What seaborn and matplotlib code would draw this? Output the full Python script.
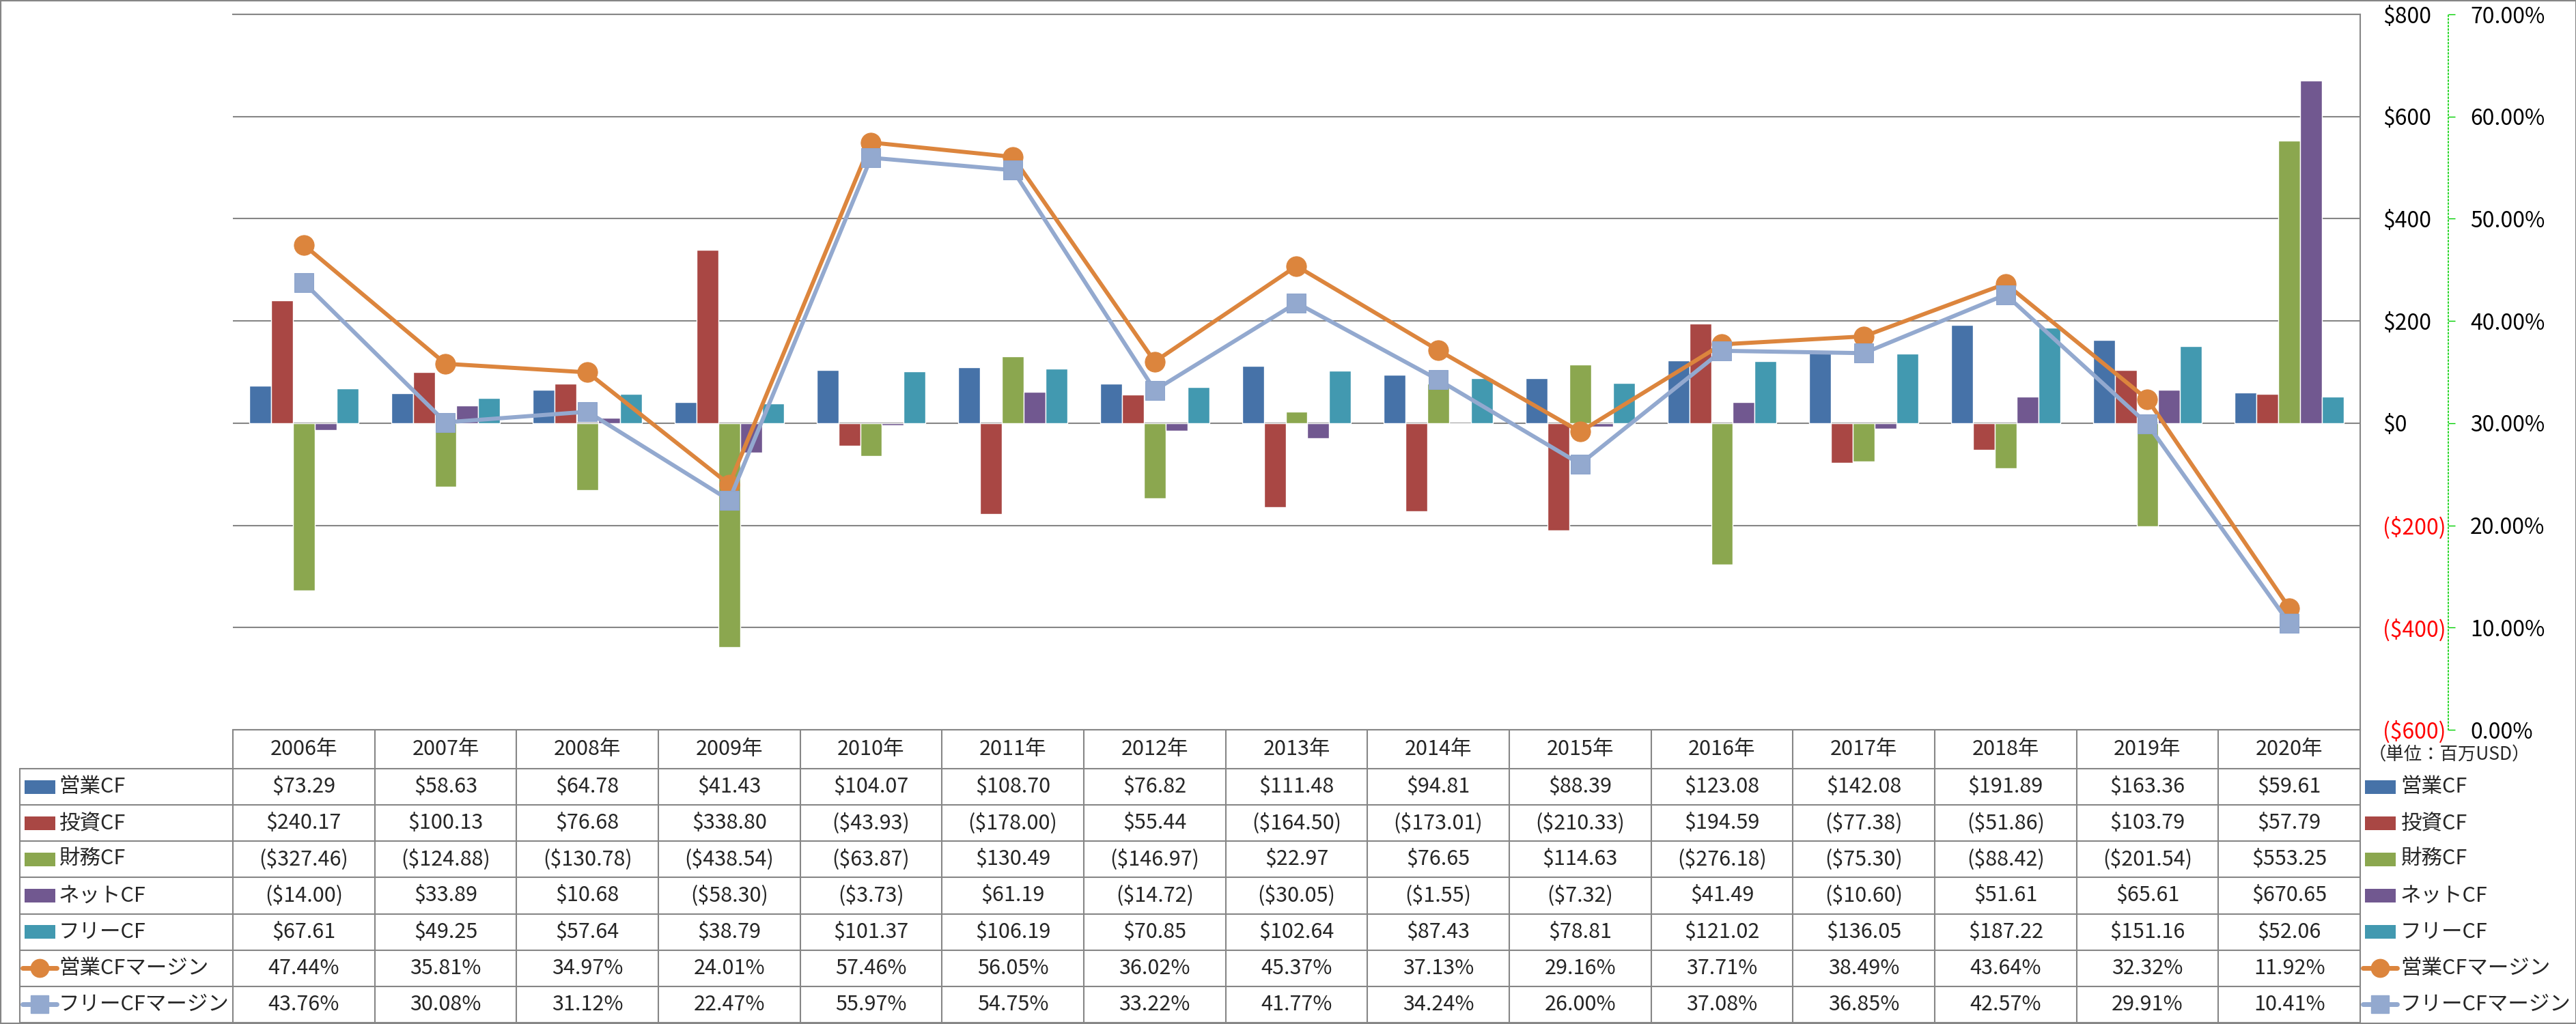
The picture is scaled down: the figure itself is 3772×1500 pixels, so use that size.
import numpy as np
import pandas as pd
import matplotlib
matplotlib.use('Agg')
import matplotlib.pyplot as plt
import matplotlib.transforms as mtransforms
from matplotlib.lines import Line2D
from matplotlib.patches import Rectangle
import seaborn as sns

# data (百万USD / %)
years = ['2006年', '2007年', '2008年', '2009年', '2010年', '2011年', '2012年', '2013年',
         '2014年', '2015年', '2016年', '2017年', '2018年', '2019年', '2020年']
op_cf = [73.29, 58.63, 64.78, 41.43, 104.07, 108.70, 76.82, 111.48,
         94.81, 88.39, 123.08, 142.08, 191.89, 163.36, 59.61]
inv_cf = [240.17, 100.13, 76.68, 338.80, -43.93, -178.00, 55.44, -164.50,
          -173.01, -210.33, 194.59, -77.38, -51.86, 103.79, 57.79]
fin_cf = [-327.46, -124.88, -130.78, -438.54, -63.87, 130.49, -146.97, 22.97,
          76.65, 114.63, -276.18, -75.30, -88.42, -201.54, 553.25]
net_cf = [-14.00, 33.89, 10.68, -58.30, -3.73, 61.19, -14.72, -30.05,
          -1.55, -7.32, 41.49, -10.60, 51.61, 65.61, 670.65]
free_cf = [67.61, 49.25, 57.64, 38.79, 101.37, 106.19, 70.85, 102.64,
           87.43, 78.81, 121.02, 136.05, 187.22, 151.16, 52.06]
op_margin = [47.44, 35.81, 34.97, 24.01, 57.46, 56.05, 36.02, 45.37,
             37.13, 29.16, 37.71, 38.49, 43.64, 32.32, 11.92]
free_margin = [43.76, 30.08, 31.12, 22.47, 55.97, 54.75, 33.22, 41.77,
               34.24, 26.00, 37.08, 36.85, 42.57, 29.91, 10.41]

bar_names = ['営業CF', '投資CF', '財務CF', 'ネットCF', 'フリーCF']
line_names = ['営業CFマージン', 'フリーCFマージン']
bar_colors = ['#4672A8', '#A94744', '#8BA74F', '#715890', '#4299B0']
line_colors = ['#DC853D', '#93A9CF']
money_ticks = [-600, -400, -200, 0, 200, 400, 600, 800]
pct_ticks = [0, 10, 20, 30, 40, 50, 60, 70]

GRAY = '#868686'
W, H, DPI = 3773, 1500, 100
TXT = 22


def money(v):
    return f'(${-v:,.2f})' if v < 0 else f'${v:,.2f}'


def money_tick(v):
    return f'(${-v:,.0f})' if v < 0 else f'${v:,.0f}'


def fy(px):
    return 1 - px / H


def fx(px):
    return px / W


sns.set_style('white')
plt.rcParams['font.family'] = ['Noto Sans CJK JP', 'DejaVu Sans']

fig = plt.figure(figsize=(W / DPI, H / DPI), dpi=DPI)
ax_l, ax_r, ax_t, ax_b = 341, 3456, 21, 1069
ax = fig.add_axes([fx(ax_l), fy(ax_b), fx(ax_r) - fx(ax_l), fy(ax_t) - fy(ax_b)])
ax2 = ax.twinx()

bars = pd.DataFrame({
    'year': years * len(bar_names),
    'series': np.repeat(bar_names, len(years)),
    'value': op_cf + inv_cf + fin_cf + net_cf + free_cf,
})
sns.barplot(data=bars, x='year', y='value', hue='series', hue_order=bar_names,
            palette=bar_colors, width=0.77, saturation=1, errorbar=None,
            legend=False, ax=ax)

ax.set_xlim(-0.5, len(years) - 0.5)
ax.set_ylim(-600, 800)
ax.set_yticks(money_ticks)
ax.set_yticklabels([money_tick(v) for v in money_ticks])
ax.yaxis.tick_right()
ax.tick_params(axis='y', length=0, pad=24, labelsize=23)
for lab, v in zip(ax.get_yticklabels(), money_ticks):
    lab.set_color('red' if v < 0 else 'black')
ax.set_xticks([])
ax.set_xlabel('')
ax.set_ylabel('')
ax.yaxis.grid(True, color=GRAY, lw=1.5)
ax.set_axisbelow(True)
ax.spines['left'].set_visible(False)
for s in ['right', 'top', 'bottom']:
    ax.spines[s].set_color(GRAY)
    ax.spines[s].set_linewidth(1.5)

# margins on secondary axis
xs = np.arange(len(years))
sns.lineplot(x=xs, y=op_margin, ax=ax2, color=line_colors[0], lw=4.3, marker='o',
             markersize=21, markeredgecolor=line_colors[0], legend=False)
sns.lineplot(x=xs, y=free_margin, ax=ax2, color=line_colors[1], lw=4.3, marker='s',
             markersize=20, markeredgecolor='#8EA5CD', legend=False)
ax2.set_xlim(-0.5, len(years) - 0.5)
ax2.set_ylim(0, 70)
ax2.set_yticks(pct_ticks)
ax2.set_yticklabels([f'{v:.2f}%' for v in pct_ticks])
ax2.set_ylabel('')
for s in ['left', 'top', 'bottom']:
    ax2.spines[s].set_visible(False)
ax2.spines['right'].set_position(('outward', 93))
ax2.spines['right'].set_color('#00D000')
ax2.spines['right'].set_linestyle((0, (1, 2)))
ax2.spines['right'].set_linewidth(1.2)
ax2.tick_params(axis='y', direction='out', length=7, width=1, color='#00D000',
                labelcolor='black', pad=16, labelsize=23)

# data table under the chart
trans = mtransforms.blended_transform_factory(ax.transData, fig.transFigure)
head_mid = (ax_b + 1126) / 2
row_top = 1126
row_h = (1498 - 1126) / 7
tab_left = 29

for i in range(len(years) + 1):
    fig.add_artist(Line2D([i - 0.5, i - 0.5], [fy(ax_b), fy(1498)], transform=trans,
                          color=GRAY, lw=1.5))
for r in range(8):
    y = fy(row_top + r * row_h)
    fig.add_artist(Line2D([fx(tab_left), fx(ax_r)], [y, y], transform=fig.transFigure,
                          color=GRAY, lw=1.5))
fig.add_artist(Line2D([fx(tab_left)] * 2, [fy(row_top), fy(1498)],
                      transform=fig.transFigure, color=GRAY, lw=1.5))

for i, yr in enumerate(years):
    ax.text(i, fy(head_mid), yr, transform=trans, ha='center', va='center', fontsize=TXT)

rows = [(op_cf, money), (inv_cf, money), (fin_cf, money), (net_cf, money),
        (free_cf, money), (op_margin, lambda v: f'{v:.2f}%'),
        (free_margin, lambda v: f'{v:.2f}%')]
names = bar_names + line_names
colors = bar_colors + line_colors


def legend_key(x0, yc, r):
    if r < len(bar_names):
        fig.add_artist(Rectangle((fx(x0), fy(yc + 10)), fx(45), 20 / H,
                                 transform=fig.transFigure, color=colors[r], lw=0))
    else:
        fig.add_artist(Line2D([fx(x0 - 3), fx(x0 + 47)], [fy(yc)] * 2,
                              transform=fig.transFigure, color=colors[r], lw=5))
        fig.add_artist(Line2D([fx(x0 + 22)], [fy(yc)], transform=fig.transFigure,
                              marker='o' if r == 5 else 's', markersize=19,
                              color=colors[r], lw=0))


for r, (vals, fmt) in enumerate(rows):
    yc = row_top + (r + 0.5) * row_h
    for i, v in enumerate(vals):
        ax.text(i, fy(yc), fmt(v), transform=trans, ha='center', va='center', fontsize=TXT)
    legend_key(36, yc, r)
    fig.text(fx(86), fy(yc), names[r], ha='left', va='center', fontsize=TXT)
    legend_key(3463, yc, r)
    fig.text(fx(3515), fy(yc), names[r], ha='left', va='center', fontsize=TXT)

fig.text(fx(3468), fy(1106), '（単位：百万USD）', ha='left', va='center', fontsize=19)

fig.add_artist(Rectangle((0, 0), 1, 1, transform=fig.transFigure, fill=False,
                         edgecolor=GRAY, lw=3))

fig.savefig('out.png', dpi=DPI)
plt.close(fig)
